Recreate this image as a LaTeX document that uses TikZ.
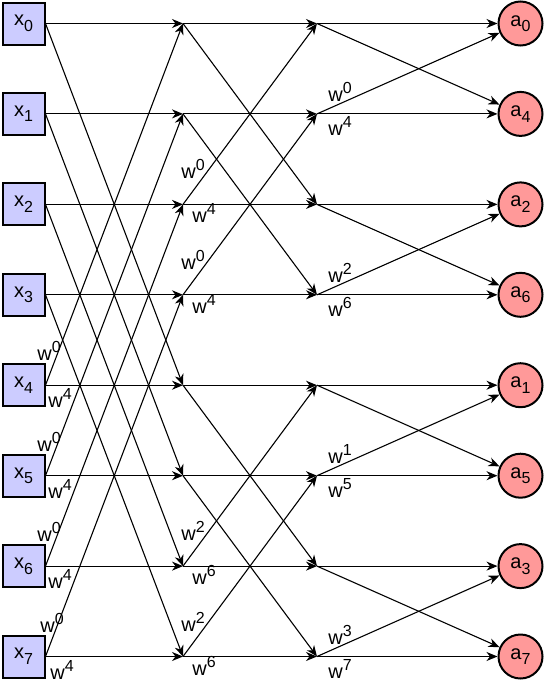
\documentclass[tikz,border=0pt]{standalone}
\usepackage{fontspec}
\setmainfont{Liberation Sans}
\usetikzlibrary{arrows.meta}

\definecolor{inblue}{HTML}{CCCCFF}
\definecolor{outred}{HTML}{FF9999}

\newcommand{\xs}[2]{#1\raisebox{-.28em}{\fontsize{16}{16}\selectfont #2}}
\newcommand{\tw}[1]{w\raisebox{.4em}{\fontsize{16}{16}\selectfont #1}}

\tikzset{
	xbox/.style={draw, line width=2pt, fill=inblue, minimum size=42pt, inner sep=0pt},
	abox/.style={circle, draw, line width=2pt, fill=outred, minimum size=44pt, inner sep=0pt},
	arr/.style={line width=1.1pt, -{Stealth[length=11pt,width=9pt,inset=3.5pt]}},
	lbl/.style={inner sep=0pt}
}

\begin{document}
\begin{tikzpicture}[x=1pt,y=-1pt,font=\fontsize{20}{22}\selectfont]
		\useasboundingbox (0,0) rectangle (545,683);
		
		% inputs
		\node[xbox] (x0) at (23.5,23.5) {\xs{x}{0}};
		\node[xbox] (x1) at (23.5,113.9) {\xs{x}{1}};
		\node[xbox] (x2) at (23.5,204.4) {\xs{x}{2}};
		\node[xbox] (x3) at (23.5,294.8) {\xs{x}{3}};
		\node[xbox] (x4) at (23.5,385.2) {\xs{x}{4}};
		\node[xbox] (x5) at (23.5,475.7) {\xs{x}{5}};
		\node[xbox] (x6) at (23.5,566.1) {\xs{x}{6}};
		\node[xbox] (x7) at (23.5,656.5) {\xs{x}{7}};
		
		% butterfly points
		\coordinate (p0) at (183,23.5);  \coordinate (q0) at (317,23.5);
		\coordinate (p1) at (183,113.9); \coordinate (q1) at (317,113.9);
		\coordinate (p2) at (183,204.4); \coordinate (q2) at (317,204.4);
		\coordinate (p3) at (183,294.8); \coordinate (q3) at (317,294.8);
		\coordinate (p4) at (183,385.2); \coordinate (q4) at (317,385.2);
		\coordinate (p5) at (183,475.7); \coordinate (q5) at (317,475.7);
		\coordinate (p6) at (183,566.1); \coordinate (q6) at (317,566.1);
		\coordinate (p7) at (183,656.5); \coordinate (q7) at (317,656.5);
		
		% outputs
		\node[abox] (a0) at (520.5,23.5) {\xs{a}{0}};
		\node[abox] (a4) at (520.5,113.9) {\xs{a}{4}};
		\node[abox] (a2) at (520.5,204.4) {\xs{a}{2}};
		\node[abox] (a6) at (520.5,294.8) {\xs{a}{6}};
		\node[abox] (a1) at (520.5,385.2) {\xs{a}{1}};
		\node[abox] (a5) at (520.5,475.7) {\xs{a}{5}};
		\node[abox] (a3) at (520.5,566.1) {\xs{a}{3}};
		\node[abox] (a7) at (520.5,656.5) {\xs{a}{7}};
		
		% first stage
		\draw[arr] (x0.east) -- (p0); \draw[arr] (x4.east) -- (p0);
		\draw[arr] (x0.east) -- (p4); \draw[arr] (x4.east) -- (p4);
		\draw[arr] (x1.east) -- (p1); \draw[arr] (x5.east) -- (p1);
		\draw[arr] (x1.east) -- (p5); \draw[arr] (x5.east) -- (p5);
		\draw[arr] (x2.east) -- (p2); \draw[arr] (x6.east) -- (p2);
		\draw[arr] (x2.east) -- (p6); \draw[arr] (x6.east) -- (p6);
		\draw[arr] (x3.east) -- (p3); \draw[arr] (x7.east) -- (p3);
		\draw[arr] (x3.east) -- (p7); \draw[arr] (x7.east) -- (p7);
		
		\node[lbl] at (49,351.2) {\tw{0}}; \node[lbl] at (60,398.2) {\tw{4}};
		\node[lbl] at (49,441.7) {\tw{0}}; \node[lbl] at (60,488.7) {\tw{4}};
		\node[lbl] at (49,532.1) {\tw{0}}; \node[lbl] at (60,579.1) {\tw{4}};
		\node[lbl] at (52,622.5) {\tw{0}}; \node[lbl] at (62,669.5) {\tw{4}};
		
		% second stage
		\draw[arr] (p0) -- (q0); \draw[arr] (p2) -- (q0);
		\draw[arr] (p0) -- (q2); \draw[arr] (p2) -- (q2);
		\draw[arr] (p1) -- (q1); \draw[arr] (p3) -- (q1);
		\draw[arr] (p1) -- (q3); \draw[arr] (p3) -- (q3);
		\draw[arr] (p4) -- (q4); \draw[arr] (p6) -- (q4);
		\draw[arr] (p4) -- (q6); \draw[arr] (p6) -- (q6);
		\draw[arr] (p5) -- (q5); \draw[arr] (p7) -- (q5);
		\draw[arr] (p5) -- (q7); \draw[arr] (p7) -- (q7);
		
		\node[lbl] at (193,169.4) {\tw{0}}; \node[lbl] at (204,213.4) {\tw{4}};
		\node[lbl] at (193,259.8) {\tw{0}}; \node[lbl] at (204,303.8) {\tw{4}};
		\node[lbl] at (193,531.1) {\tw{2}}; \node[lbl] at (204,575.1) {\tw{6}};
		\node[lbl] at (193,621.5) {\tw{2}}; \node[lbl] at (204,665.5) {\tw{6}};
		
		% third stage
		\draw[arr] (q0) -- (a0); \draw[arr] (q1) -- (a0);
		\draw[arr] (q0) -- (a4); \draw[arr] (q1) -- (a4);
		\draw[arr] (q2) -- (a2); \draw[arr] (q3) -- (a2);
		\draw[arr] (q2) -- (a6); \draw[arr] (q3) -- (a6);
		\draw[arr] (q4) -- (a1); \draw[arr] (q5) -- (a1);
		\draw[arr] (q4) -- (a5); \draw[arr] (q5) -- (a5);
		\draw[arr] (q6) -- (a3); \draw[arr] (q7) -- (a3);
		\draw[arr] (q6) -- (a7); \draw[arr] (q7) -- (a7);
		
		\node[lbl] at (340,91.9) {\tw{0}};  \node[lbl] at (340,125.9) {\tw{4}};
		\node[lbl] at (340,272.8) {\tw{2}}; \node[lbl] at (340,306.8) {\tw{6}};
		\node[lbl] at (340,453.7) {\tw{1}}; \node[lbl] at (340,487.7) {\tw{5}};
		\node[lbl] at (340,634.5) {\tw{3}}; \node[lbl] at (340,668.5) {\tw{7}};
\end{tikzpicture}
\end{document}
